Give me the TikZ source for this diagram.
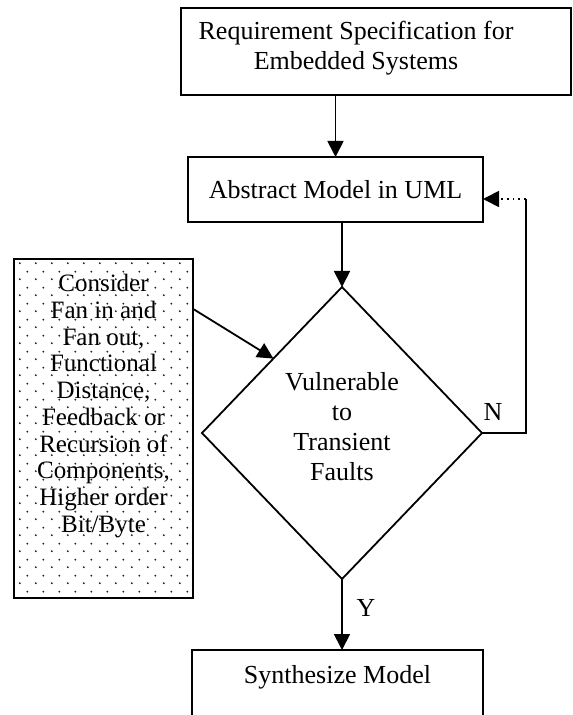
\documentclass[tikz,border=0pt]{standalone}
\usepackage{fontspec}
\setmainfont{Liberation Serif}
\usetikzlibrary{arrows.meta,patterns,shapes.geometric,calc}

% staggered dot fill for the note box
\pgfdeclarepatternformonly{sparsedots}{\pgfqpoint{0pt}{0pt}}{\pgfqpoint{8pt}{8pt}}{\pgfqpoint{8pt}{8pt}}{%
  \pgfpathcircle{\pgfqpoint{2pt}{2pt}}{0.55pt}%
  \pgfpathcircle{\pgfqpoint{6pt}{6pt}}{0.55pt}%
  \pgfusepath{fill}}

\begin{document}
\begin{tikzpicture}[x=0.5pt,y=-0.5pt,line width=0.9pt,
    box/.style={draw,rectangle,inner sep=0pt,outer sep=0pt},
    decision/.style={draw,diamond,inner sep=0pt,outer sep=0pt,
        minimum width=140pt,minimum height=146pt},
    txt/.style={align=center,inner sep=0pt,font=\fontsize{13}{15}\selectfont},
    arr/.style={-{Triangle[length=8pt,width=8pt]}}]
    \useasboundingbox (0,0) rectangle (572,715);
    \clip (0,0) rectangle (572,715);

    % boxes
    \node[box,minimum width=195pt,minimum height=43.5pt] (spec) at (376,51.5) {};
    \node[txt] (specTxt) at (356,48) {Requirement Specification for\\Embedded Systems};

    \node[box,minimum width=147.5pt,minimum height=32.5pt,txt] (abs) at (335.5,189.5)
        {Abstract Model in UML};

    \node[decision] (vuln) at (342,433) {};
    \node[txt] (vulnTxt) at (342,427) {Vulnerable\\to\\Transient\\Faults};

    \node[box,minimum width=145.5pt,minimum height=35pt] (synth) at (337.5,685) {};
    \node[txt] (synthTxt) at (337.5,677) {Synthesize Model};

    % dotted note on the left
    \node[box,pattern=sparsedots,pattern color=black!85,
        minimum width=89.5pt,minimum height=169.5pt] (note) at (103.5,428.5) {};
    \node[txt,font=\fontsize{12.5}{13.35}\selectfont] (noteTxt) at (103.5,406)
        {Consider\\Fan in and\\Fan out,\\Functional\\Distance,\\Feedback or\\Recursion of\\Components,\\Higher order\\Bit/Byte};

    % connectors
    \draw[arr] (spec.south -| abs.north) -- (abs.north);
    \draw[arr] (abs.south -| vuln.north) -- (vuln.north);
    \coordinate (noteOut) at ($(note.north east)!0.147!(note.south east)$);
    \coordinate (hit) at ($(vuln.north)!0.49!(vuln.west)$);
    \draw[arr] (noteOut) -- (hit);

    % N branch back to the model
    \coordinate (loopTop) at (526,199);
    \coordinate (loopBot) at (vuln.east -| loopTop);
    \draw (vuln.east) -- (loopBot) -- (loopTop);
    \draw[arr,dotted] (loopTop) -- (loopTop -| abs.east);
    \node[txt] (nLbl) at (493,412) {N};

    % Y branch
    \draw[arr] (vuln.south) -- (vuln.south |- synth.north);
    \node[txt] (yLbl) at (366,608) {Y};
\end{tikzpicture}
\end{document}
